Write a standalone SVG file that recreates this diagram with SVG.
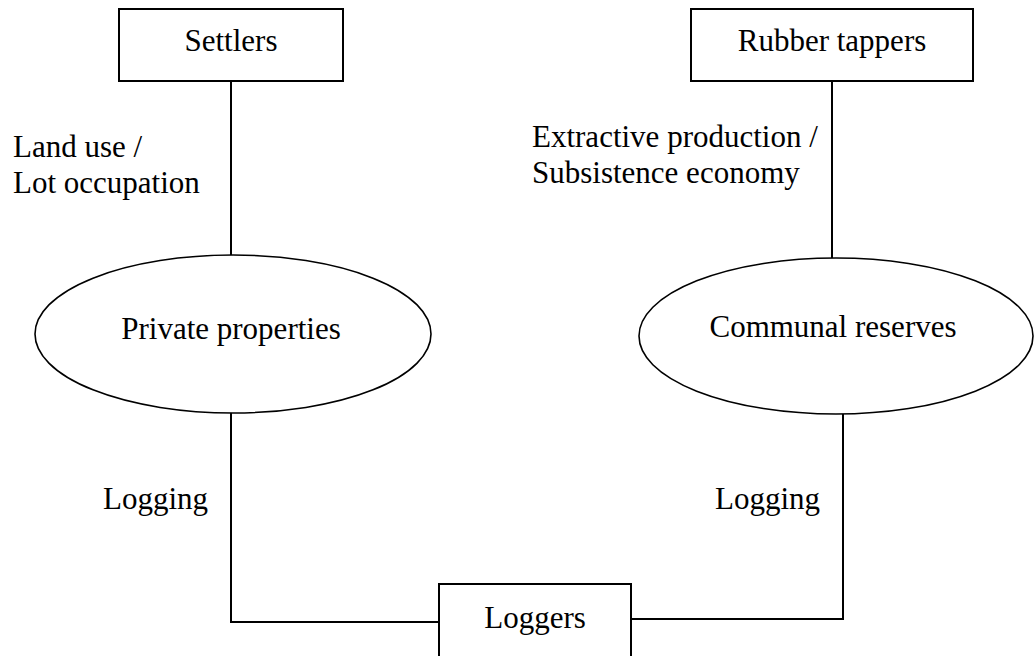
<svg xmlns="http://www.w3.org/2000/svg" width="1034" height="656" viewBox="0 0 1034 656">
<style>
.box{fill:#fff;stroke:#000;stroke-width:2}
.ell{fill:#fff;stroke:#000;stroke-width:1.6}
.conn{fill:none;stroke:#000;stroke-width:2}
text{font-family:"Liberation Serif","Times New Roman",serif;font-size:31px;fill:#000}
.c{text-anchor:middle}
</style>
<rect width="1034" height="656" fill="#fff"/>
<g id="connectors">
<line class="conn" x1="231" y1="81" x2="231" y2="255"/>
<line class="conn" x1="832" y1="81" x2="832" y2="258"/>
<polyline class="conn" points="231,413 231,622 439,622"/>
<polyline class="conn" points="631,619 843,619 843,414"/>
<text x="13" y="157">Land use /</text>
<text x="13" y="193">Lot occupation</text>
<text x="532" y="147">Extractive production /</text>
<text x="532" y="183">Subsistence economy</text>
<text x="103" y="509">Logging</text>
<text x="715" y="509">Logging</text>
</g>
<g id="settlers">
<rect class="box" x="119" y="9" width="224" height="72"/>
<text class="c" x="231" y="51">Settlers</text>
</g>
<g id="rubber-tappers">
<rect class="box" x="691" y="9" width="282" height="72"/>
<text class="c" x="832" y="51">Rubber tappers</text>
</g>
<g id="private-properties">
<ellipse class="ell" cx="233" cy="334" rx="198" ry="79"/>
<text class="c" x="231" y="339">Private properties</text>
</g>
<g id="communal-reserves">
<ellipse class="ell" cx="836" cy="336" rx="197" ry="78"/>
<text class="c" x="833" y="337">Communal reserves</text>
</g>
<g id="loggers">
<rect class="box" x="439" y="584" width="192" height="80"/>
<text class="c" x="535" y="628">Loggers</text>
</g>
</svg>
